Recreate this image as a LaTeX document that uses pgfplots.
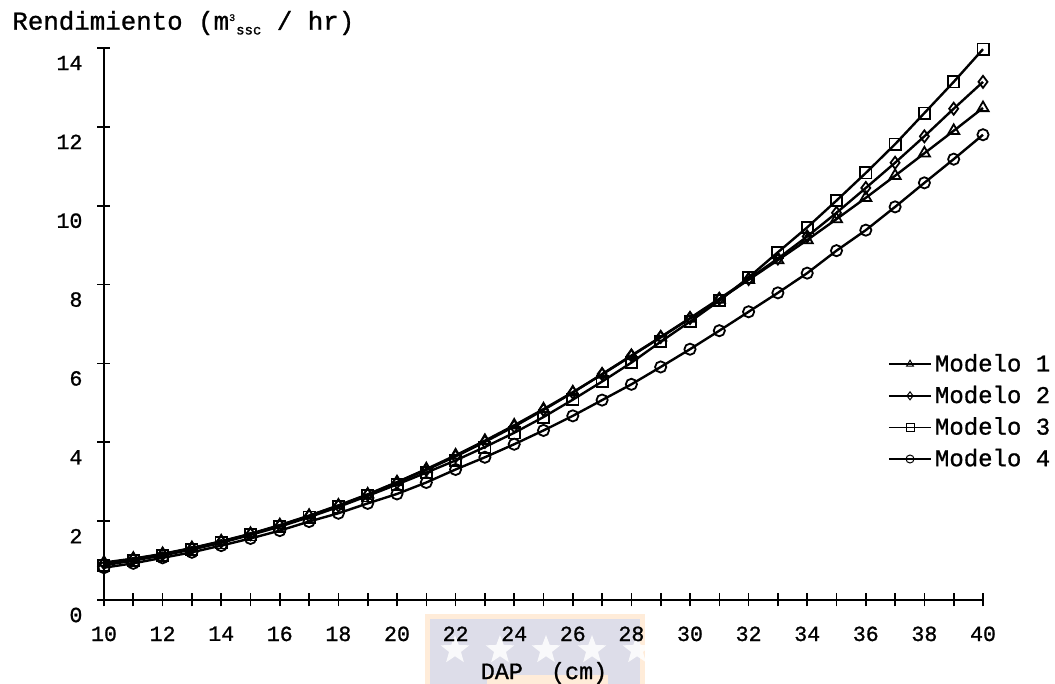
\documentclass[border=0pt]{standalone}
\usepackage{pgfplots}
\pgfplotsset{compat=1.18}
\usepackage{pgfplotstable}
\usepackage{fontspec}
\setmainfont{Liberation Mono}[FakeBold=1]
\usetikzlibrary{shapes.geometric}

% DAP (cm) vs rendimiento, cuatro modelos
\pgfplotstableread{
x   m1     m2     m3     m4
10  0.95   0.93   0.88   0.82
11  1.05   1.04   1.00   0.93
12  1.17   1.16   1.13   1.07
13  1.32   1.31   1.28   1.21
14  1.49   1.48   1.45   1.38
15  1.68   1.67   1.65   1.56
16  1.90   1.89   1.86   1.76
17  2.14   2.13   2.10   1.99
18  2.40   2.39   2.36   2.20
19  2.68   2.67   2.64   2.45
20  2.99   2.98   2.93   2.69
21  3.32   3.30   3.23   2.98
22  3.67   3.64   3.54   3.31
23  4.04   4.01   3.88   3.62
24  4.43   4.40   4.24   3.95
25  4.84   4.82   4.64   4.30
26  5.27   5.26   5.08   4.67
27  5.72   5.73   5.54   5.07
28  6.19   6.20   6.02   5.47
29  6.66   6.67   6.55   5.91
30  7.14   7.15   7.06   6.36
31  7.62   7.64   7.59   6.83
32  8.12   8.14   8.18   7.31
33  8.62   8.66   8.82   7.79
34  9.13   9.22   9.45   8.29
35  9.66   9.82   10.13  8.86
36  10.20  10.45  10.83  9.38
37  10.76  11.09  11.56  9.97
38  11.33  11.76  12.35  10.58
39  11.90  12.46  13.14  11.18
40  12.48  13.14  13.97  11.80
}\datos

\begin{document}
\begin{tikzpicture}
  % marca de agua (logo) detras del eje x
  \fill[orange!15] (160.5pt,-7pt) rectangle (270.5pt,-42pt);
  \fill[blue!20!gray!22] (163pt,-9.5pt) rectangle (268pt,-42pt);
  \foreach \sx in {175.5,198,221,244,266.5}
    \node[star, star points=5, star point ratio=2.4, fill=white, fill opacity=0.85,
      minimum size=15pt, inner sep=0pt] at (\sx pt,-25pt) {};
  \fill[orange!15] (191.5pt,-37.5pt) rectangle (252pt,-42pt);

  \begin{axis}[
      at={(0,0)}, anchor=south west,
      scale only axis,
      width=439.5pt, height=276pt,
      xmin=10, xmax=40, ymin=0, ymax=14,
      axis x line=bottom, axis y line=left,
      axis line style={-, line width=0.8pt},
      xtick={10,12,...,40}, minor x tick num=1,
      ytick={0,2,...,14},
      tick align=center,
      major tick length=6.5pt, minor tick length=6.5pt,
      every tick/.style={black, line width=0.8pt},
      /pgf/number format/assume math mode=true,
      ticklabel style={font=\fontsize{10.8}{12}\selectfont},
      xticklabel style={yshift=-6.5pt},
      yticklabel style={yshift=-7.5pt, xshift=-4pt},
      clip=false,
      legend style={draw=none, fill=none, at={(0.892,0.451)}, anchor=north west,
        inner sep=0pt, outer sep=0pt, nodes={inner sep=1.5pt},
        font=\fontsize{12}{14}\selectfont, row sep=2.6pt},
      legend cell align=left,
      legend image code/.code={
        \draw[#1, line width=0.9pt, mark repeat=2, mark phase=2, mark size=2pt,
          every mark/.append style={line width=0.5pt}]
          plot coordinates {(0cm,0cm) (0.37cm,0cm) (0.74cm,0cm)};
      },
  ]
    \addplot[black, line width=1.2pt, mark=triangle, mark size=3.2pt,
      mark options={solid, fill=white, line width=0.9pt}] table[x=x, y=m1] {\datos};
    \addlegendentry{Modelo 1}
    \addplot[black, line width=1.2pt, mark=diamond, mark size=3pt,
      mark options={solid, fill=white, line width=0.9pt}] table[x=x, y=m2] {\datos};
    \addlegendentry{Modelo 2}
    \addplot[black, line width=1.2pt, mark=square, mark size=2.8pt,
      mark options={solid, fill=white, line width=0.9pt}] table[x=x, y=m3] {\datos};
    \addlegendentry{Modelo 3}
    \addplot[black, line width=1.2pt, mark=o, mark size=2.8pt,
      mark options={solid, fill=white, line width=0.9pt}] table[x=x, y=m4] {\datos};
    \addlegendentry{Modelo 4}
  \end{axis}

  \node[anchor=west, font=\fontsize{12.9}{15}\selectfont, inner sep=0pt]
    at (-46pt,288.5pt)
    {Rendimiento (m\textsuperscript{\tiny 3}\raisebox{-0.35ex}{\scriptsize ssc} / hr)};
  \node[font=\fontsize{11.7}{14}\selectfont] at (220pt,-36.5pt) {DAP\ \ (cm)};

  \pgfresetboundingbox
  \useasboundingbox (-52pt,-42pt) rectangle (475.5pt,300pt);
\end{tikzpicture}
\end{document}
